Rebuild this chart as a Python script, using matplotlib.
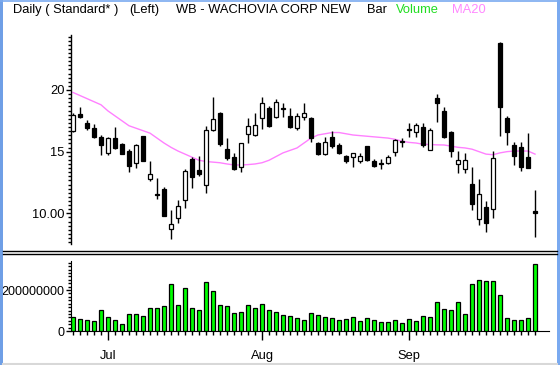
import matplotlib
matplotlib.use("Agg")
import matplotlib.pyplot as plt
from matplotlib.lines import Line2D
from matplotlib.patches import Rectangle
from matplotlib.ticker import FixedLocator, MultipleLocator

plt.rcParams["font.family"] = ["Liberation Sans", "DejaVu Sans"]

# OHLC per trading day, Jun 24 - Sep 26
opens = [16.70, 18.05, 17.35, 16.94, 16.21, 14.87, 16.08, 15.62, 15.05, 14.10,
         16.27, 12.78, 11.55, 11.97, 8.70, 9.64, 11.08, 14.38, 13.51, 12.30,
         16.75, 18.11, 15.19, 14.54, 13.78, 16.43, 16.35, 17.70, 18.52, 17.83,
         18.55, 17.89, 16.90, 17.83, 17.70, 15.68, 14.78, 16.21, 15.54, 14.67,
         14.54, 14.27, 15.46, 14.24, 14.08, 14.05, 14.95, 15.76, 16.78, 16.60,
         17.03, 15.11, 19.38, 18.27, 16.62, 13.97, 13.57, 12.38, 9.51, 10.49,
         10.32, 23.84, 17.70, 15.54, 15.35, 14.54, 10.20]
highs = [18.10, 18.65, 17.57, 17.22, 16.35, 16.16, 17.02, 15.73, 15.19, 15.62,
         16.27, 14.22, 12.84, 12.10, 10.27, 11.08, 13.57, 14.54, 14.65, 17.08,
         19.46, 18.20, 16.08, 14.87, 15.68, 17.70, 18.16, 19.46, 18.70, 19.27,
         18.92, 18.52, 18.16, 18.92, 17.80, 15.81, 16.16, 16.67, 15.68, 14.73,
         14.92, 14.92, 15.46, 14.38, 14.38, 14.73, 16.03, 16.08, 17.30, 17.30,
         17.30, 16.89, 19.65, 18.60, 16.70, 15.08, 14.87, 13.73, 12.78, 11.03,
         15.05, 23.92, 17.90, 15.80, 15.80, 16.49, 11.89]
lows = [16.60, 17.70, 16.76, 16.10, 14.73, 14.75, 15.19, 14.78, 13.37, 13.65,
        14.27, 12.64, 11.14, 9.81, 7.89, 9.19, 10.41, 12.08, 13.03, 11.67,
        16.70, 15.46, 14.32, 13.51, 13.37, 15.73, 16.30, 16.80, 17.00, 17.70,
        17.83, 16.89, 16.76, 17.57, 15.81, 14.73, 14.73, 15.32, 14.78, 14.05,
        13.78, 14.05, 14.24, 13.78, 13.57, 13.97, 14.67, 15.40, 16.20, 16.16,
        15.40, 15.11, 17.43, 16.10, 14.60, 13.24, 13.24, 10.27, 9.05, 8.51,
        9.59, 16.30, 15.50, 13.90, 13.40, 13.70, 8.05]
closes = [17.97, 17.83, 16.90, 16.16, 15.51, 16.08, 15.32, 14.83, 13.86, 15.54,
          14.27, 13.16, 11.50, 9.81, 9.11, 10.59, 13.43, 12.97, 13.16, 16.75,
          17.65, 15.62, 14.46, 13.59, 15.68, 17.08, 17.19, 18.92, 17.10, 19.05,
          18.45, 17.03, 17.90, 18.16, 16.08, 14.78, 15.76, 15.46, 14.92, 14.27,
          14.87, 14.65, 14.32, 13.86, 14.02, 14.54, 15.95, 15.86, 16.74, 17.16,
          15.54, 16.76, 18.92, 16.21, 15.08, 14.32, 14.32, 10.73, 11.57, 9.19,
          14.46, 18.65, 16.60, 14.67, 13.78, 13.70, 10.00]
ma20 = [19.80, 19.55, 19.30, 19.05, 18.80, 18.30, 17.90, 17.50, 17.10, 16.90,
        16.70, 16.50, 16.10, 15.70, 15.35, 15.05, 14.80, 14.55, 14.30, 14.20,
        14.15, 14.10, 14.00, 13.92, 13.92, 13.95, 14.00, 14.10, 14.30, 14.60,
        14.90, 15.10, 15.30, 15.70, 16.10, 16.35, 16.45, 16.55, 16.55, 16.45,
        16.35, 16.30, 16.25, 16.20, 16.15, 16.10, 16.00, 15.85, 15.75, 15.70,
        15.60, 15.58, 15.55, 15.54, 15.45, 15.35, 15.30, 15.20, 15.00, 14.80,
        14.75, 14.90, 15.00, 15.05, 15.05, 15.05, 14.80]
volume = [67e6, 57e6, 52e6, 47e6, 101e6, 67e6, 52e6, 32e6, 81e6, 81e6,
          71e6, 111e6, 111e6, 120e6, 228e6, 125e6, 208e6, 111e6, 101e6, 237e6,
          194e6, 125e6, 120e6, 86e6, 91e6, 125e6, 111e6, 130e6, 101e6, 91e6,
          76e6, 73e6, 63e6, 52e6, 86e6, 76e6, 67e6, 63e6, 52e6, 57e6,
          68e6, 47e6, 63e6, 52e6, 42e6, 42e6, 52e6, 37e6, 57e6, 47e6,
          73e6, 68e6, 140e6, 106e6, 101e6, 140e6, 81e6, 228e6, 249e6, 242e6,
          242e6, 174e6, 62e6, 52e6, 52e6, 62e6, 325e6]
month_idx = [5, 27, 48]
month_labels = ["Jul", "Aug", "Sep"]

W, H = 560, 365
fig = plt.figure(figsize=(W / 100, H / 100), dpi=100)
fig.patch.set_facecolor("white")

def fx(px):
    return px / W

def fy(py):
    return 1 - py / H

n = len(closes)
xs = list(range(n))
xlim = (-2 / 7, 68)

# price panel
axp = fig.add_axes([fx(71), fy(244), fx(478), 209 / H])
axp.set_xlim(*xlim)
axp.set_ylim(7.51, 24.46)
for s in ["top", "right", "bottom"]:
    axp.spines[s].set_visible(False)
axp.spines["left"].set_linewidth(1.0)
axp.set_xticks([])

axp.plot(xs, ma20, color="#ff80ff", lw=1.0, zorder=1)
axp.vlines(xs, lows, highs, color="black", lw=1.0, zorder=2)
bottoms = [min(o, c) for o, c in zip(opens, closes)]
heights = [max(abs(c - o), 0.06) for o, c in zip(opens, closes)]
colors = ["white" if c > o else "black" for o, c in zip(opens, closes)]
axp.bar(xs, heights, bottom=bottoms, width=0.62, color=colors,
        edgecolor="black", linewidth=0.9, zorder=3)

axp.yaxis.set_major_locator(FixedLocator([10, 15, 20]))
axp.set_yticklabels(["10.00", "15", "20"])
axp.yaxis.set_minor_locator(MultipleLocator(1 / 3))
axp.tick_params(axis="y", which="major", length=3.5, width=1, labelsize=9.3, pad=1)
axp.tick_params(axis="y", which="minor", length=2, width=1)

# volume panel
axv = fig.add_axes([fx(71), fy(331), fx(478), 70 / H])
axv.set_xlim(*xlim)
axv.set_ylim(0, 341.5e6)
for s in ["top", "right"]:
    axv.spines[s].set_visible(False)
axv.bar(xs, volume, width=0.6, color="#00ff00", edgecolor="black", linewidth=0.9)
axv.yaxis.set_major_locator(FixedLocator([0, 200e6]))
axv.set_yticklabels(["0", "200000000"])
axv.yaxis.set_minor_locator(MultipleLocator(200e6 / 12))
axv.tick_params(axis="y", which="major", length=3.5, width=1, labelsize=9, pad=1)
axv.tick_params(axis="y", which="minor", length=2, width=1)
axv.xaxis.set_major_locator(FixedLocator(month_idx))
axv.set_xticklabels(month_labels)
axv.xaxis.set_minor_locator(FixedLocator(xs))
axv.tick_params(axis="x", which="major", length=6.5, width=1, labelsize=9.3, pad=7)
axv.tick_params(axis="x", which="minor", length=3, width=1)

# title line
title_parts = [
    ("Daily ( Standard* )", 13, "black"),
    ("(Left)", 129, "black"),
    ("WB - WACHOVIA CORP NEW", 176, "black"),
    ("Bar", 367, "black"),
    ("Volume", 396, "#22dd22"),
    ("MA20", 452, "#ff88ff"),
]
for txt, px, col in title_parts:
    fig.text(fx(px), fy(10), txt, color=col, fontsize=9.3, va="center", ha="left")

# panel separator and window frame
for py in (251, 254):
    fig.add_artist(Line2D([fx(3), fx(557)], [fy(py), fy(py)], color="black", lw=1.0))
fig.add_artist(Rectangle((0, 0), fx(3), 1, transform=fig.transFigure,
                         color="#6f9fe6", lw=0))
fig.add_artist(Rectangle((fx(557), 0), fx(3), 1, transform=fig.transFigure,
                         color="#7aaaf0", lw=0))
fig.add_artist(Line2D([0, 1], [fy(0.5), fy(0.5)], color="#7aaaf0", lw=1.2))
fig.add_artist(Line2D([fx(3), fx(557)], [fy(364), fy(364)], color="#d8d8d8", lw=1.5))

fig.savefig("out.png", dpi=100, facecolor="white")
